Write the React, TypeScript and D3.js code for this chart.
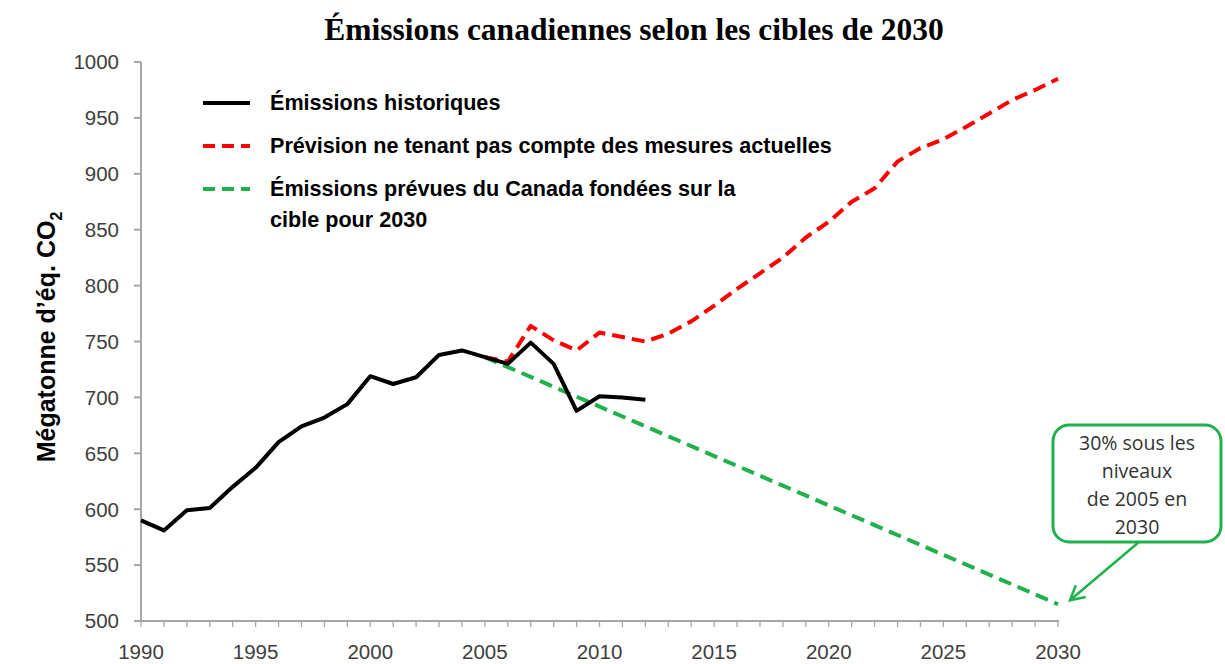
import { useMemo } from "react";
import * as d3 from "d3";

const W = 1225;
const H = 664;
const X0 = 141;
const X1 = 1058;
const Y0 = 621;
const Y1 = 62;

const HIST_YEARS = [1990, 1991, 1992, 1993, 1994, 1995, 1996, 1997, 1998, 1999, 2000, 2001, 2002, 2003, 2004, 2005, 2006, 2007, 2008, 2009, 2010, 2011, 2012];
const HIST_VALUES = [590, 581, 599, 601, 620, 637, 660, 674, 682, 694, 719, 712, 718, 738, 742, 736, 730, 749, 730, 688, 701, 700, 698];

const FORECAST_YEARS = [2005, 2006, 2007, 2008, 2009, 2010, 2011, 2012, 2013, 2014, 2015, 2016, 2017, 2018, 2019, 2020, 2021, 2022, 2023, 2024, 2025, 2026, 2027, 2028, 2029, 2030];
const FORECAST_VALUES = [736, 732, 764, 751, 742, 758, 754, 750, 757, 768, 782, 797, 811, 825, 843, 857, 875, 887, 911, 923, 931, 942, 954, 966, 975, 985];

const TARGET_YEARS = [2005, 2030];
const TARGET_VALUES = [736, 515];

const Y_TICKS = [500, 550, 600, 650, 700, 750, 800, 850, 900, 950, 1000];
const X_LABELS = [1990, 1995, 2000, 2005, 2010, 2015, 2020, 2025, 2030];

const LEGEND = [
  { lines: ["Émissions historiques"], color: "#000", dash: null },
  { lines: ["Prévision ne tenant pas compte des mesures actuelles"], color: "#ff0000", dash: "12 7" },
  { lines: ["Émissions prévues du Canada fondées sur la", "cible pour 2030"], color: "#1eb14c", dash: "12 7" },
];

const CALLOUT = ["30% sous les", "niveaux", "de 2005 en", "2030"];

const AXIS = "#a6a6a6";
const LABEL = "#404040";
const GREEN = "#1eb14c";

export default function App() {
  const x = useMemo(() => d3.scaleLinear().domain([1990, 2030]).range([X0, X1]), []);
  const y = useMemo(() => d3.scaleLinear().domain([500, 1000]).range([Y0, Y1]), []);

  const line = d3
    .line<[number, number]>()
    .x((d) => x(d[0]))
    .y((d) => y(d[1]));

  const hist = HIST_YEARS.map((yr, i) => [yr, HIST_VALUES[i]] as [number, number]);
  const fc = FORECAST_YEARS.map((yr, i) => [yr, FORECAST_VALUES[i]] as [number, number]);
  const tg = TARGET_YEARS.map((yr, i) => [yr, TARGET_VALUES[i]] as [number, number]);
  const years = d3.range(1990, 2031);

  // callout box + arrow pointing to the 2030 target
  const bx = 1053;
  const by = 425;
  const bw = 168;
  const bh = 117;
  const tip: [number, number] = [x(2030) + 12, y(515) - 4];
  const base: [number, number] = [bx + 86, by + bh];

  const ang = Math.atan2(tip[1] - base[1], tip[0] - base[0]);
  const ah = 16;
  const a1 = [tip[0] - ah * Math.cos(ang - 0.5), tip[1] - ah * Math.sin(ang - 0.5)];
  const a2 = [tip[0] - ah * Math.cos(ang + 0.5), tip[1] - ah * Math.sin(ang + 0.5)];

  return (
    <svg
      width={W}
      height={H}
      style={{ position: "absolute", left: 0, top: 0, background: "#fff" }}
    >
      <text
        x={634}
        y={40}
        textAnchor="middle"
        fontFamily="'Liberation Serif', 'Times New Roman', serif"
        fontWeight="bold"
        fontSize={31.5}
      >
        Émissions canadiennes selon les cibles de 2030
      </text>

      {/* axes */}
      <g stroke={AXIS} strokeWidth={2}>
        <line x1={X0} x2={X0} y1={Y1} y2={Y0 + 1} />
        <line x1={X0 - 1} x2={X1 + 1} y1={Y0} y2={Y0} />
        {Y_TICKS.map((t) => (
          <line key={t} x1={X0 - 7} x2={X0} y1={y(t)} y2={y(t)} />
        ))}
        {years.map((yr) => (
          <line key={yr} x1={x(yr)} x2={x(yr)} y1={Y0} y2={Y0 + 6} strokeWidth={1.3} />
        ))}
      </g>

      <g fontFamily="'Liberation Sans', Arial, sans-serif" fontSize={20.5} fill={LABEL}>
        {Y_TICKS.map((t) => (
          <text key={t} x={X0 - 22} y={y(t)} dy="0.36em" textAnchor="end">
            {t}
          </text>
        ))}
        {X_LABELS.map((t) => (
          <text key={t} x={x(t)} y={659} textAnchor="middle">
            {t}
          </text>
        ))}
      </g>

      <text
        transform={`translate(55,337) rotate(-90)`}
        textAnchor="middle"
        fontFamily="'Liberation Sans', Arial, sans-serif"
        fontWeight="bold"
        fontSize={25}
      >
        Mégatonne d’éq. CO
        <tspan fontSize={16} dy={7}>2</tspan>
      </text>

      {/* series */}
      <path d={line(tg) ?? ""} fill="none" stroke={GREEN} strokeWidth={4} strokeDasharray="13 7" />
      <path d={line(fc) ?? ""} fill="none" stroke="#ff0000" strokeWidth={4} strokeDasharray="13 7" strokeLinejoin="round" />
      <path d={line(hist) ?? ""} fill="none" stroke="#000" strokeWidth={4} strokeLinejoin="round" />

      {/* legend */}
      <g fontFamily="'Liberation Sans', Arial, sans-serif" fontWeight="bold" fontSize={21.6}>
        {LEGEND.map((l, i) => {
          const cy = 103 + i * 43;
          return (
            <g key={i}>
              <line
                x1={203}
                x2={250}
                y1={cy}
                y2={cy}
                stroke={l.color}
                strokeWidth={4}
                strokeDasharray={l.dash ?? undefined}
              />
              {l.lines.map((s, j) => (
                <text key={j} x={270} y={cy - 1 + j * 31} dy="0.35em">
                  {s}
                </text>
              ))}
            </g>
          );
        })}
      </g>

      {/* callout */}
      <rect x={bx} y={by} width={bw} height={bh} rx={16} fill="#fff" stroke={GREEN} strokeWidth={3} />
      <g fontFamily="'Open Sans', 'Liberation Sans', sans-serif" fontSize={19.5} fill="#333" textAnchor="middle">
        {CALLOUT.map((s, i) => (
          <text key={i} x={bx + bw / 2} y={by + 25 + i * 28}>
            {s}
          </text>
        ))}
      </g>
      <line x1={base[0]} y1={base[1]} x2={tip[0]} y2={tip[1]} stroke={GREEN} strokeWidth={2.5} />
      <polyline
        points={`${a1[0]},${a1[1]} ${tip[0]},${tip[1]} ${a2[0]},${a2[1]}`}
        fill="none"
        stroke={GREEN}
        strokeWidth={2.5}
      />
    </svg>
  );
}
